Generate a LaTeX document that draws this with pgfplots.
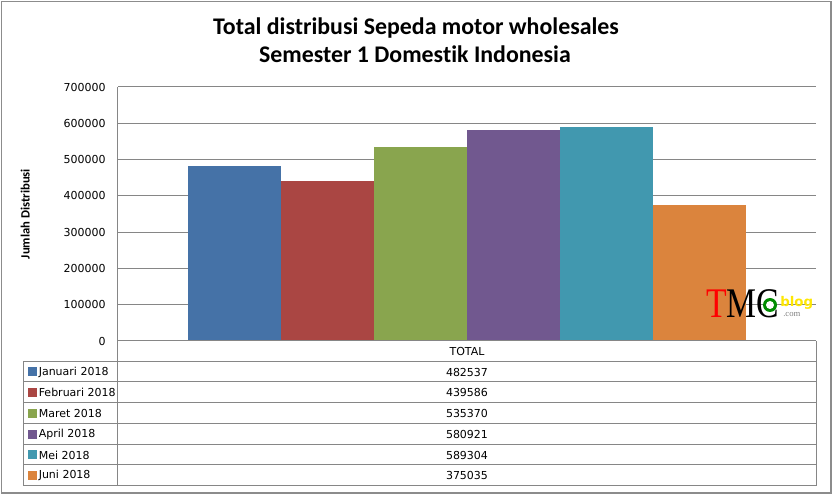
\documentclass[border=0pt]{standalone}
\usepackage{pgfplots}
\pgfplotsset{compat=1.18}
\usepackage{fontspec}
\setmainfont{Carlito}[RawFeature={-liga;-clig;-dlig}]
\newfontfamily\dv{DejaVu Sans}
\newfontfamily\lser{Liberation Serif}
\definecolor{cJan}{HTML}{4572A7}
\definecolor{cFeb}{HTML}{AA4643}
\definecolor{cMar}{HTML}{89A54E}
\definecolor{cApr}{HTML}{71588F}
\definecolor{cMei}{HTML}{4198AF}
\definecolor{cJun}{HTML}{DB843D}
\definecolor{gridc}{HTML}{868686}
\definecolor{framec}{HTML}{8C8C8C}
\begin{document}
\begin{tikzpicture}[x=0.75pt,y=-0.75pt]
\path (0,0) rectangle (833,495);
\draw[framec, line width=0.9pt] (1.5,1.5) rectangle (831,493);
% title
\node[font=\bfseries\fontsize{17.9}{20}\selectfont, anchor=base, inner sep=0] at (416,35) {Total distribusi Sepeda motor wholesales};
\node[font=\bfseries\fontsize{17.9}{20}\selectfont, anchor=base, inner sep=0] at (415,63) {Semester 1 Domest\kern0pt ik Indonesia};
\begin{axis}[
  at={(88.5pt,-255.75pt)}, anchor=south west,
  scale only axis, width=523.5pt, height=190.5pt,
  xmin=-3.753, xmax=3.753, ymin=0, ymax=700000,
  xtick=\empty,
  ytick={0,100000,...,700000},
  scaled y ticks=false,
  /pgf/number format/fixed,
  /pgf/number format/1000 sep={},
  /pgf/number format/assume math mode=true,
  yticklabel style={font=\dv\fontsize{8.25}{10}\selectfont, anchor=east, inner sep=0pt, xshift=-9pt},
  major tick length=0pt,
  axis x line*=bottom, axis y line*=left,
  axis line style={gridc, line width=0.75pt},
  ymajorgrids, grid style={gridc, line width=0.75pt},
  ylabel={Jumlah Distribusi},
  ylabel style={font=\bfseries\fontsize{9.5}{11}\selectfont, at={(axis description cs:-0.133,0.5)}, anchor=center},
  clip=false,
]
\addplot[ybar, bar width=1, bar shift=0pt, fill=cJan, draw=none] coordinates {(-2.5,482537)};
\addplot[ybar, bar width=1, bar shift=0pt, fill=cFeb, draw=none] coordinates {(-1.5,439586)};
\addplot[ybar, bar width=1, bar shift=0pt, fill=cMar, draw=none] coordinates {(-0.5,535370)};
\addplot[ybar, bar width=1, bar shift=0pt, fill=cApr, draw=none] coordinates {(0.5,580921)};
\addplot[ybar, bar width=1, bar shift=0pt, fill=cMei, draw=none] coordinates {(1.5,589304)};
\addplot[ybar, bar width=1, bar shift=0pt, fill=cJun, draw=none] coordinates {(2.5,375035)};
\end{axis}
% data table
\begin{scope}[gridc, line width=0.75pt]
\draw (117,341) -- (816,341);
\foreach \yy in {362,382,403,424,445,465,486} \draw (23,\yy) -- (816,\yy);
\draw (23,362) -- (23,486);
\draw (117,341) -- (117,486);
\draw (816,341) -- (816,486);
\end{scope}
\begin{scope}[every node/.style={font=\dv\fontsize{8.25}{10}\selectfont, inner sep=0pt}]
\node at (467,351.5) {TOTAL};
\foreach \yc/\col/\lab/\val in {372/cJan/Januari 2018/482537, 392.5/cFeb/Februari 2018/439586, 413.5/cMar/Maret 2018/535370, 434.5/cApr/April 2018/580921, 455/cMei/Mei 2018/589304, 475.5/cJun/Juni 2018/375035}{
  \fill[\col] (28,\yc-4.5) rectangle (37,\yc+4.5);
  \node[anchor=west] at (38.5,\yc) {\lab};
  \node at (467,\yc) {\val};
}
\end{scope}
% logo watermark
\node[anchor=base west, inner sep=0, font=\lser\fontsize{25.3}{26}\selectfont, yscale=1.25] at (706,318) {\textcolor{red}{T}MC};
\fill[green!55!black] (770,305) circle (7);
\fill[white] (770,305) circle (4);
\node[anchor=base west, inner sep=0, font=\dv\bfseries\fontsize{10}{11}\selectfont, text=yellow!90!orange] at (780,307) {blog};
\node[anchor=base west, inner sep=0, font=\lser\fontsize{6.5}{7}\selectfont, text=gray] at (783,317) {.com};
\end{tikzpicture}
\end{document}
